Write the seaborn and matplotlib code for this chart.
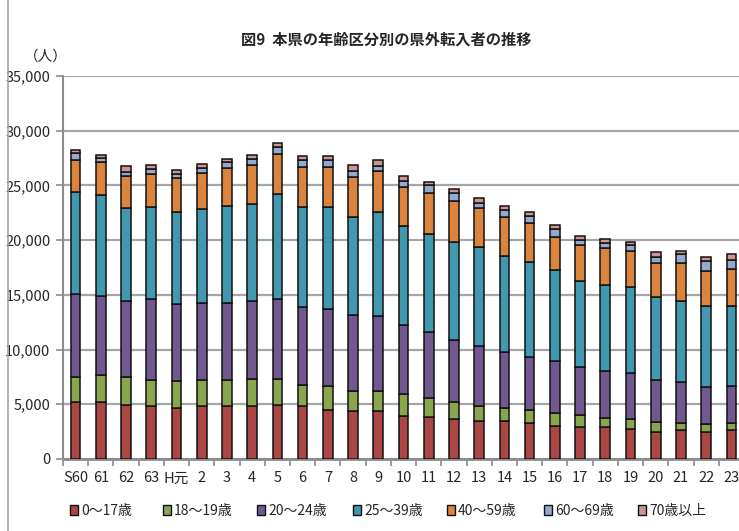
import matplotlib
matplotlib.use("Agg")
import matplotlib.pyplot as plt
from matplotlib.patches import Patch
from matplotlib.ticker import FuncFormatter, FixedLocator
import seaborn as sns
import pandas as pd
import numpy as np

# 年度ラベル（昭和60年～平成23年）
years = ["S60", "61", "62", "63", "H元", "2", "3", "4", "5", "6", "7", "8", "9",
         "10", "11", "12", "13", "14", "15", "16", "17", "18", "19", "20", "21", "22", "23"]

# 年齢区分別の県外転入者数（人）
age_0_17 = [5200, 5200, 4950, 4800, 4650, 4800, 4800, 4850, 4900, 4800, 4500, 4350, 4350,
            3950, 3800, 3650, 3500, 3500, 3300, 3050, 2900, 2900, 2750, 2500, 2650, 2500, 2650]
age_18_19 = [2300, 2450, 2550, 2450, 2450, 2450, 2450, 2500, 2450, 2000, 2150, 1850, 1850,
             2000, 1750, 1550, 1300, 1150, 1200, 1150, 1150, 850, 900, 850, 650, 700, 650]
age_20_24 = [7550, 7250, 6950, 7350, 7100, 7050, 7050, 7100, 7300, 7100, 7100, 7000, 6850,
             6250, 6050, 5700, 5550, 5100, 4850, 4750, 4400, 4300, 4200, 3850, 3750, 3400, 3350]
age_25_39 = [9350, 9250, 8450, 8400, 8400, 8550, 8850, 8850, 9550, 9100, 9250, 8950, 9500,
             9100, 8950, 8950, 9000, 8800, 8650, 8300, 7850, 7850, 7850, 7600, 7400, 7350, 7300]
age_40_59 = [2950, 2950, 2950, 3000, 3050, 3250, 3400, 3550, 3650, 3700, 3700, 3650, 3750,
             3550, 3750, 3750, 3550, 3600, 3600, 3050, 3250, 3350, 3300, 3100, 3500, 3250, 3400]
age_60_69 = [600, 400, 350, 500, 350, 450, 600, 600, 700, 650, 650, 550, 500,
             600, 700, 700, 500, 650, 600, 750, 500, 450, 550, 550, 750, 900, 850]
age_70_up = [300, 300, 550, 400, 400, 400, 300, 300, 300, 350, 350, 500, 500,
             450, 300, 400, 450, 300, 400, 300, 350, 450, 300, 450, 350, 400, 550]

series_names = ["0～17歳", "18～19歳", "20～24歳", "25～39歳", "40～59歳", "60～69歳", "70歳以上"]
series_values = [age_0_17, age_18_19, age_20_24, age_25_39, age_40_59, age_60_69, age_70_up]
series_colors = ["#AA4643", "#89A54E", "#71588F", "#4198AF", "#DB843D", "#93A9CF", "#D19392"]

sns.set_style("white")
plt.rcParams["font.family"] = ["Noto Sans CJK JP", "DejaVu Sans"]

W, H = 739, 531
fig = plt.figure(figsize=(W / 100, H / 100), dpi=100)
fig.patch.set_facecolor("white")

ax = fig.add_axes([63 / W, 1 - 459 / H, (744 - 63) / W, (459 - 76) / H])

n = len(years)
df = pd.DataFrame({"year": years})
bottom = np.zeros(n)
for name, vals, col in zip(series_names, series_values, series_colors):
    df["value"] = vals
    sns.barplot(data=df, x="year", y="value", order=years, color=col, width=0.38,
                errorbar=None, bottom=bottom.copy(), edgecolor="#111111",
                linewidth=1.1, saturation=1, ax=ax, zorder=3)
    bottom += np.array(vals)

ax.set_xlim(-0.5, n - 0.5)
ax.set_ylim(0, 35000)
ax.set_yticks(np.arange(0, 35001, 5000))
ax.yaxis.set_major_formatter(FuncFormatter(lambda v, p: f"{int(v):,}"))
ax.set_xlabel("")
ax.set_ylabel("")

ax.grid(axis="y", color="#A6A6A6", linewidth=1.6, zorder=0)
ax.grid(axis="x", visible=False)
ax.set_axisbelow(True)

for side in ("top", "right"):
    ax.spines[side].set_visible(False)
ax.spines["left"].set_color("#8C8C8C")
ax.spines["left"].set_linewidth(1.5)
ax.spines["bottom"].set_color("#8C8C8C")
ax.spines["bottom"].set_linewidth(2.0)

ax.tick_params(axis="y", which="major", direction="out", length=5, color="#8C8C8C",
               width=1.2, labelsize=10.5, pad=4, left=True)
ax.tick_params(axis="x", which="major", length=0, labelsize=10.5, pad=9)
ax.xaxis.set_minor_locator(FixedLocator(np.arange(-0.5, n, 1.0)))
ax.tick_params(axis="x", which="minor", direction="out", length=5, color="#8C8C8C",
               width=1.2, bottom=True)

fig.text(46 / W, 1 - 57 / H, "（人）", ha="center", va="center", fontsize=10.5)

fig.text(386 / W, 1 - 40 / H, "図9  本県の年齢区分別の県外転入者の推移", ha="center",
         va="center", fontsize=11, fontweight="bold")

# 凡例：各項目を等間隔に並べる
legend_x = [70, 163, 257, 353, 447, 544, 638]
for x0, name, col in zip(legend_x, series_names, series_colors):
    fig.legend([Patch(facecolor=col, edgecolor="#111111", linewidth=1.0)], [name],
               loc="center left", bbox_to_anchor=(x0 / W, 1 - 511 / H),
               frameon=False, fontsize=10, handlelength=0.55, handleheight=0.75,
               handletextpad=0.25, borderpad=0, borderaxespad=0)

# 外枠の左辺
fig.add_artist(plt.Line2D([8 / W, 8 / W], [0, 1], transform=fig.transFigure,
                          color="#A6A6A6", linewidth=1.2))

fig.savefig("out.png", dpi=100, facecolor="white")
